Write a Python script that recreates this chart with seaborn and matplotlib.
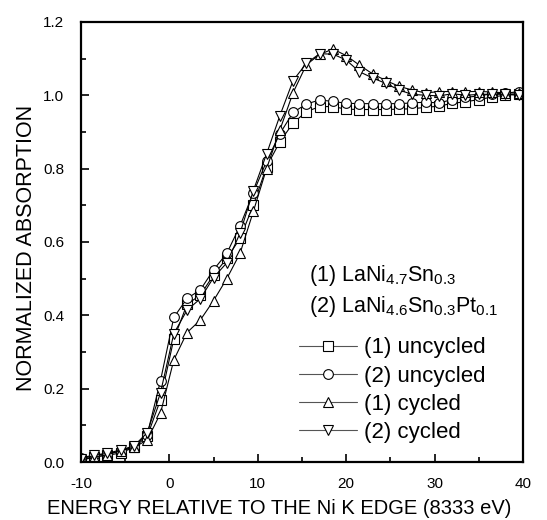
import numpy as np
import pandas as pd
import matplotlib
matplotlib.use("Agg")
import matplotlib.pyplot as plt
from matplotlib.ticker import MultipleLocator, FormatStrFormatter
import seaborn as sns

# Energy grid (eV relative to the Ni K edge)
energy = [-10, -8.5, -7, -5.5, -4, -2.5, -1, 0.5, 2, 3.5, 5, 6.5, 8, 9.5, 11,
          12.5, 14, 15.5, 17, 18.5, 20, 21.5, 23, 24.5, 26, 27.5, 29, 30.5,
          32, 33.5, 35, 36.5, 38, 39.5]

uncycled_1 = [0.005, 0.015, 0.018, 0.025, 0.040, 0.070, 0.170, 0.335, 0.430,
              0.455, 0.510, 0.555, 0.610, 0.700, 0.805, 0.873, 0.924, 0.955,
              0.969, 0.969, 0.962, 0.961, 0.961, 0.961, 0.962, 0.963, 0.967,
              0.970, 0.978, 0.982, 0.988, 0.995, 1.000, 1.004]

uncycled_2 = [0.010, 0.020, 0.022, 0.030, 0.042, 0.075, 0.222, 0.394, 0.446,
              0.469, 0.524, 0.569, 0.644, 0.734, 0.820, 0.895, 0.953, 0.976,
              0.987, 0.983, 0.978, 0.977, 0.977, 0.977, 0.977, 0.979, 0.981,
              0.979, 0.988, 0.994, 0.998, 1.004, 1.005, 1.010]

cycled_1 = [0.005, 0.013, 0.020, 0.031, 0.040, 0.060, 0.133, 0.278, 0.353,
            0.387, 0.440, 0.500, 0.569, 0.683, 0.800, 0.905, 1.007, 1.083,
            1.111, 1.126, 1.108, 1.082, 1.058, 1.040, 1.024, 1.014, 1.006,
            1.010, 1.010, 1.010, 1.010, 1.009, 1.006, 1.006]

cycled_2 = [0.008, 0.018, 0.024, 0.033, 0.044, 0.080, 0.189, 0.350, 0.414,
            0.445, 0.503, 0.543, 0.624, 0.740, 0.840, 0.944, 1.040, 1.087,
            1.113, 1.112, 1.096, 1.064, 1.047, 1.032, 1.014, 1.002, 1.000,
            0.998, 1.004, 1.000, 1.002, 1.003, 1.002, 1.000]

labels = ["(1) uncycled", "(2) uncycled", "(1) cycled", "(2) cycled"]
markers = ["s", "o", "^", "v"]
series = [uncycled_1, uncycled_2, cycled_1, cycled_2]

sns.set_theme(style="ticks")
plt.rcParams["font.family"] = ["Liberation Sans", "DejaVu Sans"]
plt.rcParams["mathtext.default"] = "regular"
plt.rcParams["axes.unicode_minus"] = False
for key in ["text.color", "axes.labelcolor", "xtick.color", "ytick.color"]:
    plt.rcParams[key] = "black"

fig = plt.figure(figsize=(5.47, 5.20), dpi=100)
ax = fig.add_axes([0.148, 0.1115, 0.808, 0.8465])

for vals, lab, mk in zip(series, labels, markers):
    df = pd.DataFrame({"energy": energy, "absorption": vals})
    sns.lineplot(data=df, x="energy", y="absorption", ax=ax, label=lab,
                 color="black", linewidth=0.8, marker=mk, markersize=7,
                 markerfacecolor="white", markeredgecolor="black",
                 markeredgewidth=0.8)

ax.set_xlim(-10, 40)
ax.set_ylim(0.0, 1.2)
ax.xaxis.set_major_locator(MultipleLocator(10))
ax.xaxis.set_minor_locator(MultipleLocator(5))
ax.yaxis.set_major_locator(MultipleLocator(0.2))
ax.yaxis.set_minor_locator(MultipleLocator(0.1))
ax.yaxis.set_major_formatter(FormatStrFormatter("%.1f"))
ax.tick_params(which="both", direction="in", top=False, right=False,
               width=1.2, color="black", labelsize=11)
ax.tick_params(which="major", length=6)
ax.tick_params(which="minor", length=3.5)
ax.tick_params(axis="x", which="major", pad=11)
ax.tick_params(axis="y", which="major", pad=12)
for sp in ax.spines.values():
    sp.set_linewidth(1.6)
    sp.set_color("black")

ax.set_xlabel("ENERGY RELATIVE TO THE Ni K EDGE (8333 eV)", fontsize=14.5)
ax.xaxis.set_label_coords(0.448, -0.085)
ax.set_ylabel("NORMALIZED ABSORPTION", fontsize=15.5)
ax.yaxis.set_label_coords(-0.1, 0.486)

ax.text(0.516, 0.411, "(1) LaNi$_{4.7}$Sn$_{0.3}$", transform=ax.transAxes,
        fontsize=15.5, ha="left", va="baseline")
ax.text(0.516, 0.341, "(2) LaNi$_{4.6}$Sn$_{0.3}$Pt$_{0.1}$",
        transform=ax.transAxes, fontsize=15.5, ha="left", va="baseline")

leg = ax.legend(loc="upper left", bbox_to_anchor=(0.493, 0.283),
                frameon=False, fontsize=16, handlelength=2.6,
                handletextpad=0.35, labelspacing=0.32, borderpad=0,
                borderaxespad=0, numpoints=1)
for h in leg.get_lines():
    h.set_color("#555555")
    h.set_markeredgecolor("black")

fig.savefig("out.png", dpi=100)
